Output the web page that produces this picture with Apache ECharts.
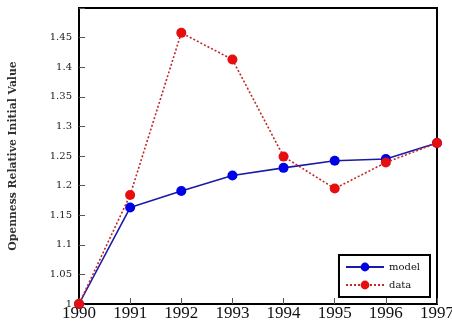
<!DOCTYPE html>
<html><head><meta charset="utf-8">
<script src="https://cdn.jsdelivr.net/npm/echarts@6/dist/echarts.min.js"></script>
<style>html,body{margin:0;padding:0;background:#fff}#c{width:452px;height:323px}</style>
</head><body><div id="c"></div>
<script>
const years = ['1990','1991','1992','1993','1994','1995','1996','1997'];
const modelValues = [1.0, 1.163, 1.191, 1.217, 1.230, 1.242, 1.245, 1.272];
const dataValues = [1.0, 1.184, 1.458, 1.413, 1.249, 1.195, 1.239, 1.272];
const yAxisTitle = 'Openness Relative Initial Value';

const serif = '"Liberation Serif", "DejaVu Serif", serif';
const dserif = '"DejaVu Serif", serif';
const chart = echarts.init(document.getElementById('c'));
chart.setOption({
  animation: false,
  grid: {left: 79, right: 15, top: 8, bottom: 19, containLabel: false, outerBoundsMode: 'none',
    show: true, borderColor: '#000', borderWidth: 2, backgroundColor: '#fff'},
  xAxis: {
    type: 'category', data: years, boundaryGap: false,
    axisLine: {lineStyle: {color: '#000', width: 2}},
    axisTick: {inside: true, length: 6, lineStyle: {color: '#555', width: 1}},
    axisLabel: {color: '#111', fontFamily: serif, fontSize: 17, margin: 1, showMinLabel: true, showMaxLabel: true, interval: 0, hideOverlap: false},
    splitLine: {show: false}
  },
  yAxis: {
    type: 'value', min: 1, max: 1.5, interval: 0.05,
    name: yAxisTitle, nameLocation: 'middle', nameGap: 60,
    nameTextStyle: {fontFamily: dserif, fontSize: 10.8, fontWeight: 'bold', color: '#333'},
    axisLine: {show: true, lineStyle: {color: '#000', width: 2}},
    axisTick: {show: true, inside: true, length: 6, lineStyle: {color: '#555', width: 1}},
    axisLabel: {color: '#222', fontFamily: dserif, fontSize: 10, margin: 7,
      formatter: v => v > 1.49 ? '' : String(+v.toFixed(2))},
    splitLine: {show: false}
  },
  legend: {
    orient: 'vertical', right: 22, bottom: 26,
    backgroundColor: '#fff', borderColor: '#000', borderWidth: 2, borderRadius: 0,
    padding: [7, 10, 7, 6], itemGap: 8, itemWidth: 38, itemHeight: 11,
    textStyle: {fontFamily: dserif, fontSize: 10, color: '#111'},
    data: ['model', 'data']
  },
  series: [
    {name: 'model', type: 'line', data: modelValues, symbol: 'circle', symbolSize: 10,
      itemStyle: {color: '#0000e6'}, lineStyle: {color: '#1a1aa8', width: 1.6}, z: 3},
    {name: 'data', type: 'line', data: dataValues, symbol: 'circle', symbolSize: 10,
      itemStyle: {color: '#e60f0f'}, lineStyle: {color: '#c02828', width: 1.6, type: [2, 2]}, z: 4}
  ]
});
</script></body></html>
